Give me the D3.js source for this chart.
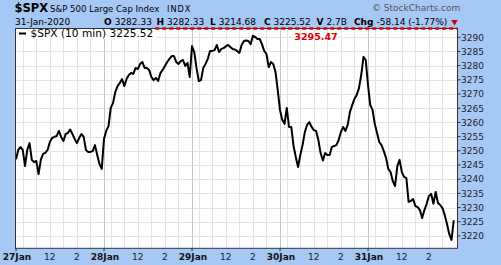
<!DOCTYPE html>
<html><head><meta charset="utf-8">
<script src="https://cdn.jsdelivr.net/npm/d3@7/dist/d3.min.js"></script>
<style>body{margin:0;background:#a6c8f4}svg{display:block}text{font-family:"DejaVu Sans",Verdana,sans-serif}</style>
</head><body><svg id="c" width="501" height="265"></svg>
<script>
// ---- data ----
const days = ["27Jan", "28Jan", "29Jan", "30Jan", "31Jan"];
const barsPerDay = 39; // 10-min bars, 9:30-16:00
const jan27 = [3247.0,3250.3,3251.3,3250.3,3244.6,3250.3,3252.7,3246.8,3246.0,3246.4,3241.8,3246.8,3248.9,3249.3,3250.3,3253.1,3254.5,3254.9,3255.2,3257.0,3254.9,3253.4,3255.9,3256.3,3257.5,3255.9,3254.2,3252.7,3254.5,3255.9,3254.9,3250.3,3249.6,3249.6,3249.9,3252.0,3248.5,3245.3,3243.6];
const jan28 = [3254.2,3257.0,3258.7,3265.1,3266.8,3270.7,3272.8,3273.9,3275.3,3272.8,3275.3,3276.7,3277.4,3277.1,3279.2,3278.8,3280.6,3281.3,3279.2,3279.2,3278.5,3276.0,3274.9,3275.7,3274.6,3277.4,3278.5,3279.9,3281.3,3282.4,3283.4,3283.4,3281.3,3280.6,3281.6,3282.0,3279.9,3281.0,3276.0];
const jan29 = [3286.9,3284.8,3279.2,3274.6,3274.9,3279.2,3280.6,3282.4,3285.2,3285.2,3285.5,3287.3,3284.8,3285.9,3286.2,3286.8,3287.3,3286.6,3285.9,3285.7,3285.2,3284.5,3287.3,3288.7,3288.9,3288.7,3287.6,3290.5,3290.1,3289.4,3289.4,3287.6,3285.2,3284.1,3279.5,3281.3,3280.6,3277.8,3271.4];
const jan30 = [3264.4,3260.9,3259.5,3265.1,3258.4,3258.4,3251.7,3247.8,3244.3,3248.5,3252.0,3256.6,3259.1,3260.1,3258.4,3257.3,3257.0,3253.8,3249.2,3246.6,3249.2,3248.5,3248.5,3251.4,3251.7,3252.0,3253.8,3256.6,3258.4,3257.0,3259.1,3263.7,3266.1,3268.3,3269.7,3272.1,3276.7,3283.1,3282.0];
const jan31 = [3273.2,3266.1,3264.4,3259.5,3256.3,3253.1,3252.0,3249.9,3247.5,3243.6,3242.5,3239.3,3237.6,3244.6,3246.8,3242.5,3240.8,3240.4,3232.0,3232.3,3233.0,3230.5,3230.2,3229.1,3226.3,3229.1,3231.3,3234.1,3234.8,3231.3,3235.5,3231.6,3230.9,3229.8,3227.4,3224.2,3220.7,3218.6,3225.52];
const hourTicks = [10, 11, 12, 13, 14, 15];
const hourLabels = ["12", "2"];       // labels shown for 12:00 and 14:00
const hourLabelHours = [12, 14];
const yTicks = d3.range(3220, 3291, 5);
const highValue = 3295.47;
const lastValue = 3225.52;
const headerTitle = "$SPX", headerName = "S&P 500 Large Cap Index", headerExch = "INDX";
const headerDate = "31-Jan-2020";
const ohlc = [["O","3282.33"],["H","3282.33"],["L","3214.68"],["C","3225.52"],["V","2.7B"],["Chg","-58.14 (-1.77%)"]];
const legendText = "$SPX (10 min) 3225.52";

// ---- layout ----
const L = 16, R = 457.5, T = 28.5, B = 248.3;
const svg = d3.select("#c");
const series = [jan27, jan28, jan29, jan30, jan31].flat();
const x = d3.scaleLinear().domain([0, days.length * barsPerDay]).range([L, 456]);
const y = d3.scaleLinear().domain([3215.63, 3293.1]).range([B, T]).clamp(true);

svg.append("rect").attr("width", 501).attr("height", 265).attr("fill", "#a6c8f4");
svg.append("rect").attr("x", L).attr("y", T).attr("width", R - L).attr("height", B - T).attr("fill", "#fff");

// horizontal grid
svg.append("g").selectAll("line").data(yTicks).join("line")
  .attr("x1", L).attr("x2", R).attr("y1", d => Math.round(y(d)) + 0.5).attr("y2", d => Math.round(y(d)) + 0.5)
  .attr("stroke", "#e4e4e4");
// hour grid
const hourIdx = [];
days.forEach((d, di) => hourTicks.forEach(h => hourIdx.push(di * barsPerDay + (h - 9.5) * 6)));
svg.append("g").selectAll("line").data(hourIdx).join("line")
  .attr("x1", d => Math.round(x(d)) + 0.5).attr("x2", d => Math.round(x(d)) + 0.5).attr("y1", T).attr("y2", B)
  .attr("stroke", "#e4e4e4");
// day lines
const dayIdx = days.map((d, i) => i * barsPerDay);
svg.append("g").selectAll("line").data(dayIdx.slice(1)).join("line")
  .attr("x1", d => Math.round(x(d)) + 0.5).attr("x2", d => Math.round(x(d)) + 0.5).attr("y1", T).attr("y2", B)
  .attr("stroke", "#c4c4c4");

// price line
svg.append("path").datum(series)
  .attr("d", d3.line().x((d, i) => x(i)).y(d => y(d)))
  .attr("fill", "none").attr("stroke", "#000").attr("stroke-width", 2).attr("stroke-linejoin", "round");

// plot border
svg.append("rect").attr("x", L - 0.5).attr("y", T).attr("width", R - L + 0.5).attr("height", B - T)
  .attr("fill", "none").attr("stroke", "#333").attr("stroke-width", 1);

// legend
const lg = svg.append("g");
const lgRect = lg.append("rect").attr("fill", "#fff");
lg.append("line").attr("x1", 19).attr("x2", 26).attr("y1", 33.5).attr("y2", 33.5).attr("stroke", "#000").attr("stroke-width", 2);
const lgT = lg.append("text").attr("x", 30.5).attr("y", 37).attr("font-size", 10.6).attr("fill", "#000").text(legendText);
const lb = lgT.node().getBBox();
lgRect.attr("x", L + 0.5).attr("y", T + 0.5).attr("width", lb.x + lb.width + 2 - L).attr("height", 10);

// high reference line (clamped to top)
const hy = y(highValue);
svg.append("line").attr("x1", lb.x + lb.width + 2).attr("x2", R).attr("y1", hy).attr("y2", hy)
  .attr("stroke", "#e00000").attr("stroke-width", 2.5).attr("stroke-dasharray", "4,3");
svg.append("text").attr("x", 316).attr("y", 40).attr("text-anchor", "middle").attr("font-size", 9.5)
  .attr("font-weight", "bold").attr("fill", "#e00000").text(highValue.toFixed(2));

// y axis labels (right)
const ya = svg.append("g");
ya.selectAll("line").data(yTicks).join("line").attr("x1", R).attr("x2", R + 3)
  .attr("y1", d => y(d)).attr("y2", d => y(d)).attr("stroke", "#333");
ya.selectAll("text").data(yTicks).join("text").attr("x", R + 3.5).attr("y", d => y(d) + 3.3)
  .attr("font-size", 9).attr("fill", "#222").text(d => d);

// x axis labels
const xa = svg.append("g");
xa.selectAll("text.day").data(days).join("text").attr("class", "day")
  .attr("x", (d, i) => x(i * barsPerDay) + 1).attr("y", 259.5).attr("text-anchor", "middle")
  .attr("font-size", 9).attr("font-weight", "bold").attr("fill", "#111").text(d => d);
const hl = [];
days.forEach((d, di) => hourLabelHours.forEach((h, k) => hl.push({ i: di * barsPerDay + (h - 9.5) * 6, t: hourLabels[k] })));
xa.selectAll("text.hr").data(hl).join("text").attr("class", "hr")
  .attr("x", d => x(d.i)).attr("y", 259.5).attr("text-anchor", "middle")
  .attr("font-size", 9).attr("fill", "#222").text(d => d.t);
xa.selectAll("line").data(dayIdx).join("line")
  .attr("x1", d => x(d)).attr("x2", d => x(d)).attr("y1", B).attr("y2", B + 3).attr("stroke", "#333");

// header
svg.append("text").attr("x", 14.5).attr("y", 12).attr("font-size", 11.5).attr("font-weight", "bold").attr("fill", "#000").text(headerTitle);
svg.append("text").attr("x", 50).attr("y", 11.7).attr("font-size", 8.6).attr("fill", "#000").text(headerName);
svg.append("text").attr("x", 167).attr("y", 11.7).attr("font-size", 8.2).attr("fill", "#000").attr("letter-spacing", 1).text(headerExch);
svg.append("text").attr("x", 372).attr("y", 11).attr("font-size", 9).attr("fill", "#555").text("\u00A9 StockCharts.com");
svg.append("text").attr("x", 15).attr("y", 24.5).attr("font-size", 9).attr("fill", "#000").text(headerDate);
const ohlcX = [104, 156.5, 210, 264, 316.5, 354];
ohlc.forEach((p, i) => {
  const t = svg.append("text").attr("x", ohlcX[i]).attr("y", 24.5).attr("font-size", 9).attr("fill", "#000");
  t.append("tspan").attr("font-weight", "bold").text(p[0]);
  t.append("tspan").attr("dx", 3).text(p[1]);
});
svg.append("path").attr("d", d3.symbol(d3.symbolTriangle, 18)()).attr("transform", "translate(454.5,21.8) rotate(180)").attr("fill", "#cc0000");
</script></body></html>
